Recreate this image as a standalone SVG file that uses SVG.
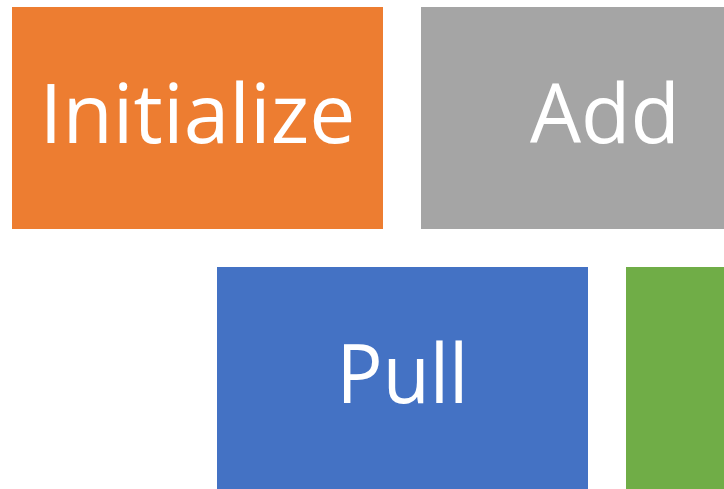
<svg xmlns="http://www.w3.org/2000/svg" width="724" height="489" viewBox="0 0 724 489">
<style>
.lbl{font-family:"Open Sans","Noto Sans","Liberation Sans",sans-serif;font-size:82px;fill:#FFFFFF;text-anchor:middle}
</style>
<rect width="724" height="489" fill="#FFFFFF"/>
<g id="node-initialize">
<rect x="12" y="7" width="371" height="222" fill="#ED7D31"/>
<text class="lbl" x="197.5" y="143" textLength="316" lengthAdjust="spacingAndGlyphs">Initialize</text>
</g>
<g id="node-add">
<rect x="421" y="7" width="371" height="222" fill="#A5A5A5"/>
<text class="lbl" x="605" y="143" textLength="150" lengthAdjust="spacingAndGlyphs">Add</text>
</g>
<g id="node-pull">
<rect x="217" y="267" width="371" height="222" fill="#4472C4"/>
<text class="lbl" x="402.5" y="403" textLength="132" lengthAdjust="spacingAndGlyphs">Pull</text>
</g>
<g id="node-green">
<rect x="626" y="267" width="371" height="222" fill="#70AD47"/>
</g>
<g id="connectors"></g>
</svg>
